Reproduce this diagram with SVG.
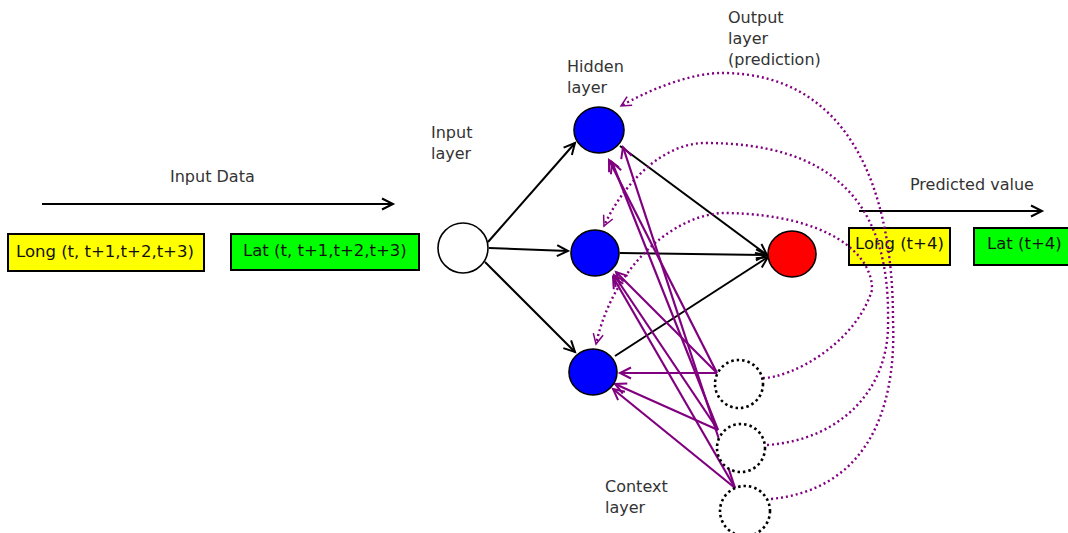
<svg xmlns="http://www.w3.org/2000/svg" width="1068" height="533" viewBox="0 0 1068 533">
<style>
text{font-family:"DejaVu Sans","Liberation Sans",sans-serif;font-size:16px}
.lbl{fill:#333}
.bt{font-size:16.5px;fill:#111}
.box{stroke:#000;stroke-width:2}
.bl{fill:none;stroke:#000;stroke-width:2}
.pu{fill:none;stroke:#800080;stroke-width:2.2}
.dot{fill:none;stroke:#800080;stroke-width:2.4;stroke-dasharray:2 3}
.ctx{fill:#fff;stroke:#000;stroke-width:2.6;stroke-dasharray:2.5 3}
.hid{fill:#0000ff;stroke:#000;stroke-width:1.6}
</style>
<defs>
<marker id="ab" markerWidth="16" markerHeight="16" refX="13" refY="8" orient="auto" markerUnits="userSpaceOnUse"><path d="M2,2.5 L13,8 L2,13.5" fill="none" stroke="#000" stroke-width="2"/></marker>
<marker id="ap" markerWidth="16" markerHeight="16" refX="13" refY="8" orient="auto" markerUnits="userSpaceOnUse"><path d="M2,2.5 L13,8 L2,13.5" fill="none" stroke="#800080" stroke-width="2"/></marker>
<marker id="ad" markerWidth="16" markerHeight="16" refX="12" refY="8" orient="auto" markerUnits="userSpaceOnUse"><path d="M2,3 L12,8 L2,13" fill="none" stroke="#800080" stroke-width="1.5"/></marker>
</defs>
<rect width="1068" height="533" fill="#fff"/>

<g id="labels">
<text class="lbl" x="170" y="182">Input Data</text>
<text class="lbl" x="910" y="190">Predicted value</text>
<text class="lbl" x="431" y="138">Input</text>
<text class="lbl" x="431" y="159">layer</text>
<text class="lbl" x="567" y="72">Hidden</text>
<text class="lbl" x="567" y="93">layer</text>
<text class="lbl" x="728" y="23">Output</text>
<text class="lbl" x="728" y="44">layer</text>
<text class="lbl" x="728" y="65">(prediction)</text>
<text class="lbl" x="605" y="492">Context</text>
<text class="lbl" x="605" y="513">layer</text>
</g>

<g id="box-long-in"><rect class="box" x="8" y="234" width="196" height="37" fill="#ffff00"/><text class="bt" x="16" y="257">Long (t, t+1,t+2,t+3)</text></g>
<g id="box-lat-in"><rect class="box" x="231" y="234" width="188" height="36" fill="#00ff00"/><text class="bt" x="243" y="256">Lat (t, t+1,t+2,t+3)</text></g>
<g id="box-long-out"><rect class="box" x="849" y="228" width="101" height="37" fill="#ffff00"/><text class="bt" x="855" y="249">Long (t+4)</text></g>
<g id="box-lat-out"><rect class="box" x="974" y="228" width="100" height="37" fill="#00ff00"/><text class="bt" x="987" y="249">Lat (t+4)</text></g>

<g id="connectors">
<path class="bl" d="M42,204 L393,204" marker-end="url(#ab)"/>
<path class="bl" d="M859,211 L1042,211" marker-end="url(#ab)"/>
<path class="bl" d="M488,242 L575,143" marker-end="url(#ab)"/>
<path class="bl" d="M489,248 L568,251" marker-end="url(#ab)"/>
<path class="bl" d="M485,262 L575,352" marker-end="url(#ab)"/>
<path class="bl" d="M620,146 L767,255" marker-end="url(#ab)"/>
<path class="bl" d="M620,253 L767,255" marker-end="url(#ab)"/>
<path class="bl" d="M615,356 L768,257" marker-end="url(#ab)"/>

<path class="pu" d="M717,373 L620,373" marker-end="url(#ap)"/>
<path class="pu" d="M717,373 L616,272" marker-end="url(#ap)"/>
<path class="pu" d="M717,373 L609,160" marker-end="url(#ap)"/>
<path class="pu" d="M718,430 L615,384" marker-end="url(#ap)"/>
<path class="pu" d="M718,430 L614,275" marker-end="url(#ap)"/>
<path class="pu" d="M718,430 L612,162" marker-end="url(#ap)"/>
<path class="pu" d="M735,488 L613,389" marker-end="url(#ap)"/>
<path class="pu" d="M735,488 L613,277" marker-end="url(#ap)"/>
<path class="pu" d="M735,488 L623,147" marker-end="url(#ap)"/>

<path class="dot" d="M771,499 C860,490 897,420 893,320 C893,190 850,75 725,73 C690,72 645,92 621,106" marker-end="url(#ad)"/>
<path class="dot" d="M767,445 C840,440 890,390 888,320 C890,200 830,143 705,143 C665,143 625,180 604,226" marker-end="url(#ad)"/>
<path class="dot" d="M763,378 C790,378 855,345 872,290 C873,255 830,215 727,213 C680,212 615,260 596,344" marker-end="url(#ad)"/>
</g>

<g id="input-node"><circle cx="463" cy="248" r="25" fill="#fff" stroke="#000" stroke-width="1.6"/></g>
<g id="hidden-1"><ellipse class="hid" cx="599" cy="130" rx="25" ry="23"/></g>
<g id="hidden-2"><ellipse class="hid" cx="595" cy="253" rx="24" ry="23"/></g>
<g id="hidden-3"><ellipse class="hid" cx="593" cy="372" rx="24" ry="23"/></g>
<g id="output-node"><ellipse cx="792" cy="254" rx="24" ry="23" fill="#ff0000" stroke="#000" stroke-width="1.6"/></g>
<g id="context-1"><circle class="ctx" cx="739" cy="384" r="24"/></g>
<g id="context-2"><circle class="ctx" cx="741" cy="448" r="24"/></g>
<g id="context-3"><circle class="ctx" cx="745" cy="511" r="25"/></g>
</svg>
